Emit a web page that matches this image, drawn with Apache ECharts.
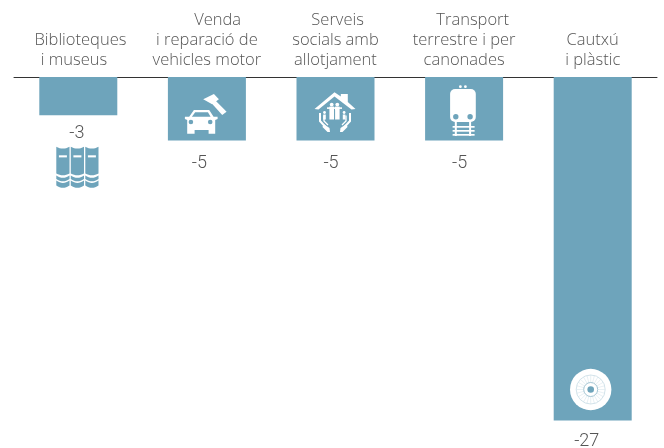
<!DOCTYPE html>
<html>
<head>
<meta charset="utf-8">
<style>
html, body { margin: 0; padding: 0; background: #fff; }
#chartmain { width: 664px; height: 448px; }
</style>
<script src="https://cdn.jsdelivr.net/npm/echarts@6/dist/echarts.min.js"></script>
</head>
<body>
<div id="chartmain"></div>
<script>
// 标题里的前导空格：原图这些行就没有居中
var nameList = [
    ' Biblioteques\ni museus  ',
    '     Venda\ni reparació de\nvehicles motor',
    ' Serveis\nsocials amb\nallotjament',
    '    Transport\nterrestre i per\ncanonades',
    'Cautxú\ni plàstic'
];
var countList = [-3, -5, -5, -5, -27];

var BAR_COLOR = '#6ea4bb';
var TEXT_COLOR = '#555555';
var WHITE = '#ffffff';
var LABEL_OFFSET = [[-1.5, -1.5], [-7.5, 3], [-4.5, 3], [-4.5, 3], [-6, 1]];

function poly(points, fill) {
    return { type: 'polygon', shape: { points: points }, style: { fill: fill } };
}
function circle(cx, cy, r, fill) {
    return { type: 'circle', shape: { cx: cx, cy: cy, r: r }, style: { fill: fill } };
}
function box(x, y, w, h, fill, r) {
    return { type: 'rect', shape: { x: x, y: y, width: w, height: h, r: r || 0 }, style: { fill: fill } };
}
function stroke(points, color, width, smooth) {
    return {
        type: 'polyline',
        shape: { points: points, smooth: smooth || 0 },
        style: { fill: null, stroke: color, lineWidth: width }
    };
}

// 书脊下沿的弧线
function smile(x, w, y, depth) {
    var pts = [];
    for (var t = 0; t <= 8; t++) {
        var u = t / 8;
        pts.push([x + w * u, y + depth * 4 * u * (1 - u)]);
    }
    return pts;
}
function band(x, w, top, bottom, depth) {
    return poly(smile(x, w, top, depth).concat(smile(x, w, bottom, depth).reverse()), BAR_COLOR);
}

// 图标：坐标相对于柱子中心和坐标轴
function booksIcon() {
    var list = [];
    [-22, -7.5, 7].forEach(function (x) {
        list.push(band(x, 13.2, 69.8, 96.5, 1.8));
        list.push(box(x + 2.6, 78.3, 8, 2.1, WHITE));
        list.push(band(x, 13.2, 98.5, 102, 2.3));
        list.push(band(x, 13.2, 103.6, 108.5, 2.3));
    });
    return list;
}
function carIcon() {
    return [
        poly([[-3.7, 22.3], [7, 17], [12, 22.3], [5.3, 27.3]], WHITE),
        poly([[8, 23], [19.7, 34.7], [15.3, 38], [4.5, 26]], WHITE),
        poly([[-13, 33], [2.3, 33], [6.7, 39.7], [10.7, 39.7], [10.7, 42], [8.3, 43], [8.3, 56.7], [1.7, 56.7], [1.7, 53],
            [-12.3, 53], [-12.3, 56.7], [-19.7, 56.7], [-19.7, 43], [-22, 42], [-22, 39.7], [-17.7, 39.7]], WHITE),
        poly([[-11.7, 35.3], [1, 35.3], [3.7, 39.7], [-15, 39.7]], BAR_COLOR),
        circle(-16, 45, 2.3, BAR_COLOR),
        circle(3.3, 45, 2.3, BAR_COLOR)
    ];
}
function houseIcon() {
    var list = [
        poly([[-1, 15.3], [5.3, 19.5], [5.3, 17], [12.3, 17], [12.3, 25], [20, 32], [16, 32.5], [-1, 19.5], [-17, 32.5], [-21, 32]], WHITE)
    ];
    // 家庭成员
    [[-3.8, 27.6, 4.6, 1.9], [1.8, 27.6, 4.6, 1.9], [-11, 35.5, 2.6, 1.4], [8.6, 35.5, 2.6, 1.4]].forEach(function (p) {
        list.push(circle(p[0], p[1], p[3], WHITE));
        list.push(box(p[0] - p[2] / 2, p[1] + 2, p[2], 42.5 - p[1] - 2, WHITE));
    });
    list.push(box(-8.5, 30.3, 15, 1.6, WHITE));
    list.push(box(-1.3, 33, 0.9, 9.5, BAR_COLOR));
    // 两只手
    [-1, 1].forEach(function (s) {
        var m = function (x) { return -0.5 + s * x; };
        list.push(stroke([[m(15), 36], [m(15), 44], [m(9.5), 50]], WHITE, 2));
        list.push(stroke([[m(11), 38.5], [m(11), 44], [m(7), 48]], WHITE, 1.3));
        list.push(poly([[m(11.5), 47], [m(5.5), 51], [m(5), 55], [m(7.5), 55], [m(12.5), 50]], WHITE));
    });
    return list;
}
function trainIcon() {
    return [
        circle(-3.7, 9.7, 1.4, WHITE),
        circle(1.3, 9.7, 1.4, WHITE),
        box(-14, 12, 25.7, 33, WHITE, 5),
        circle(-8.3, 39.7, 2.7, BAR_COLOR),
        circle(6, 39.7, 2.7, BAR_COLOR),
        box(-11.5, 49, 22, 1.7, WHITE),
        box(-11.5, 53, 22, 1.7, WHITE),
        box(-11.5, 57, 22, 1.7, WHITE),
        box(-9.3, 44, 2, 15, WHITE),
        box(5, 44, 2, 15, WHITE)
    ];
}
function wheelIcon() {
    var list = [circle(-2, 0, 20.7, WHITE)];
    for (var i = 0; i < 24; i++) {
        var a = i * Math.PI / 12;
        list.push(stroke([[-2 + 7 * Math.cos(a), 7 * Math.sin(a)], [-2 + 14.5 * Math.cos(a), 14.5 * Math.sin(a)]], '#d8e6ec', 0.6));
    }
    list.push({ type: 'circle', shape: { cx: -2, cy: 0, r: 14.5 }, style: { fill: null, stroke: '#c8dce4', lineWidth: 0.8 } });
    list.push({ type: 'circle', shape: { cx: -2, cy: 0, r: 7 }, style: { fill: WHITE, stroke: '#a5c6d4', lineWidth: 1 } });
    list.push(circle(-2, 0, 3.3, BAR_COLOR));
    return list;
}
var iconList = [booksIcon, carIcon, houseIcon, trainIcon, wheelIcon];

function renderIcon(params, api) {
    var i = api.value(0);
    // 轮子贴着柱底，其余图标从坐标轴往下排
    var anchor = i === 4 ? api.coord([i, api.value(1)]) : api.coord([i, 0]);
    return {
        type: 'group',
        x: anchor[0],
        y: i === 4 ? anchor[1] - 31 : anchor[1],
        children: iconList[i]()
    };
}

var chart = echarts.init(document.getElementById('chartmain'), null, { renderer: 'canvas' });
chart.setOption({
    animation: false,
    backgroundColor: '#ffffff',
    grid: { left: 14, right: 7, top: 77, height: 343.5, containLabel: false },
    xAxis: {
        type: 'category',
        position: 'top',
        data: nameList,
        axisTick: { show: false },
        axisLine: { onZero: false, lineStyle: { color: '#333333', width: 1 } },
        axisLabel: {
            interval: 0,
            margin: 7,
            color: TEXT_COLOR,
            fontFamily: 'Open Sans',
            fontWeight: 300,
            fontSize: 16.5,
            lineHeight: 19.7
        }
    },
    yAxis: { type: 'value', min: -27, max: 0, show: false },
    series: [
        {
            name: 'valor',
            type: 'bar',
            barWidth: 78,
            data: countList.map(function (v, i) {
                return { value: v, label: { offset: LABEL_OFFSET[i] } };
            }),
            itemStyle: { color: BAR_COLOR },
            label: {
                show: true,
                position: 'bottom',
                distance: 11,
                color: TEXT_COLOR,
                fontFamily: 'Roboto',
                fontWeight: 300,
                fontSize: 18
            }
        },
        {
            type: 'custom',
            silent: true,
            z: 5,
            clip: false,
            encode: { x: 0, y: 1 },
            data: countList.map(function (v, i) { return [i, v]; }),
            renderItem: renderIcon
        }
    ]
});
</script>
</body>
</html>
